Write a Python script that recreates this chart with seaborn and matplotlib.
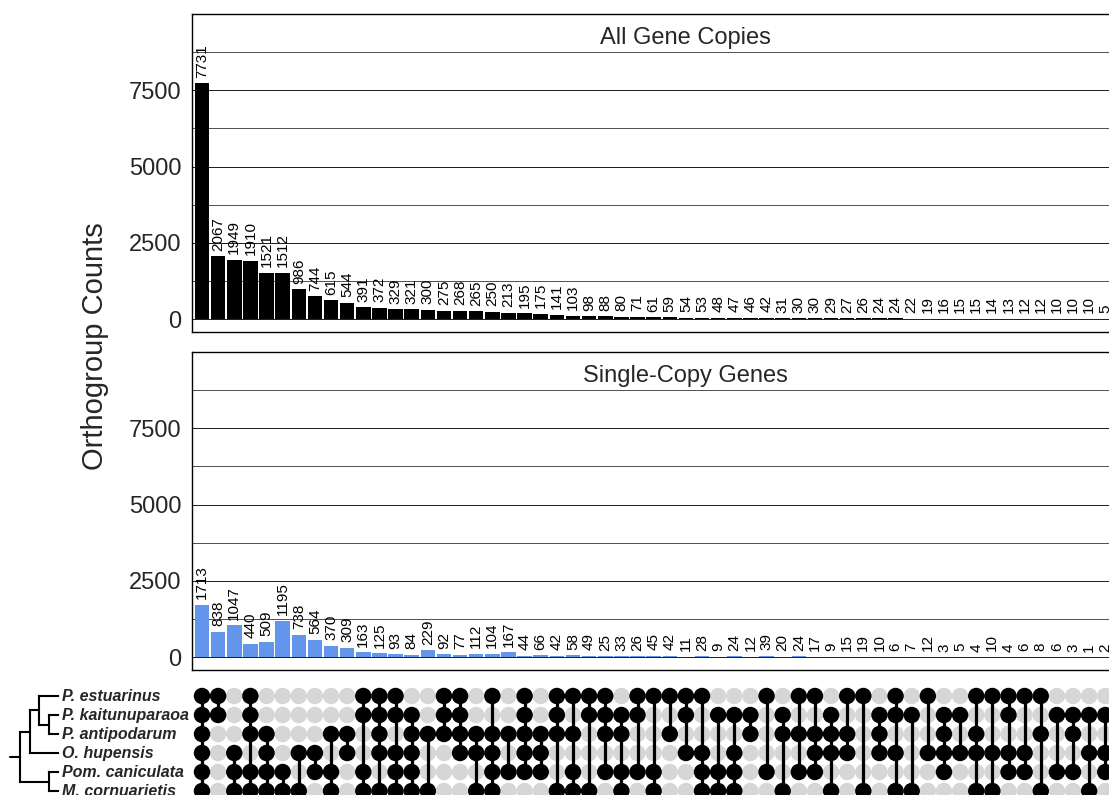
import numpy as np
import pandas as pd
import matplotlib
matplotlib.use("Agg")
import matplotlib.pyplot as plt
import matplotlib.transforms as mtrans
import seaborn as sns

# ---------------- data ----------------
species = ["P. estuarinus", "P. kaitunuparaoa", "P. antipodarum",
           "O. hupensis", "Pom. caniculata", "M. cornuarietis"]

# membership of each intersection column (rows top->bottom, 1 = present)
membership = [
    "111111", "110000", "000111", "111011", "001111", "000011", "000101", "000110",
    "001011", "001100", "110011", "111101", "110111", "011111", "001001", "111000",
    "111100", "001101", "101111", "001010", "111110", "001110", "111001", "101011",
    "110001", "111010", "011011", "110010", "100011", "101000", "110100", "100111",
    "010011", "010111", "011000", "100010", "011001", "101010", "101110", "011101",
    "101100", "100001", "011100", "110101", "010001", "100100", "011110", "010100",
    "101101", "100101", "110110", "100110", "101001", "010010", "011010", "010101",
    "010110",
]

all_copies = [7731, 2067, 1949, 1910, 1521, 1512, 986, 744, 615, 544,
              391, 372, 329, 321, 300, 275, 268, 265, 250, 213,
              195, 175, 141, 103, 98, 88, 80, 71, 61, 59,
              54, 53, 48, 47, 46, 42, 31, 30, 30, 29,
              27, 26, 24, 24, 22, 19, 16, 15, 15, 14,
              13, 12, 12, 10, 10, 10, 5]

single_copy = [1713, 838, 1047, 440, 509, 1195, 738, 564, 370, 309,
               163, 125, 93, 84, 229, 92, 77, 112, 104, 167,
               44, 66, 42, 58, 49, 25, 33, 26, 45, 42,
               11, 28, 9, 24, 12, 39, 20, 24, 17, 9,
               15, 19, 10, 6, 7, 12, 3, 5, 4, 10,
               4, 6, 8, 6, 3, 1, 2]

tree = ((("P. estuarinus", ("P. kaitunuparaoa", "P. antipodarum")), "O. hupensis"),
        ("Pom. caniculata", "M. cornuarietis"))

panel_titles = ["All Gene Copies", "Single-Copy Genes"]
bar_colors = ["black", "#6495ED"]
y_major = [0, 2500, 5000, 7500]
y_minor = [1250, 3750, 6250, 8750]

# ---------------- figure ----------------
sns.set_theme(style="white")
plt.rcParams["font.family"] = ["Liberation Sans", "DejaVu Sans"]

W, H = 1109, 795
fig = plt.figure(figsize=(W / 100, H / 100), dpi=100)


def ax_px(left, top, right, bottom):
    return fig.add_axes([left / W, 1 - bottom / H, (right - left) / W, (bottom - top) / H])


n = len(all_copies)
pitch = 16.13
x0 = 202.0
XMIN, XMAX = -0.6, 60.6
left_px = x0 + XMIN * pitch
right_px = x0 + XMAX * pitch

panels = [(14, 332), (352, 670)]
YLIM = (-420, 10000)

for (top, bottom), vals, title, col in zip(panels, [all_copies, single_copy], panel_titles, bar_colors):
    ax = ax_px(left_px, top, right_px, bottom)
    df = pd.DataFrame({"set": np.arange(n), "count": vals})
    sns.barplot(data=df, x="set", y="count", color=col, width=0.9,
                saturation=1, ax=ax, edgecolor="none")
    ax.set_xlim(XMIN, XMAX)
    ax.set_ylim(*YLIM)
    ax.set_yticks(y_major)
    ax.set_yticks(y_minor, minor=True)
    ax.set_yticklabels([str(v) for v in y_major], fontsize=17)
    ax.grid(True, which="major", axis="y", color="#1a1a1a", lw=0.7, zorder=0)
    ax.grid(True, which="minor", axis="y", color="#333333", lw=0.6, zorder=0)
    ax.set_axisbelow(True)
    ax.set_xticks(np.arange(n))
    ax.set_xticklabels([])
    ax.tick_params(axis="x", which="major", length=6, width=2, color="black", direction="out", pad=2)
    ax.tick_params(axis="y", which="major", length=4, width=1, color="black", direction="out", pad=4)
    ax.tick_params(axis="y", which="minor", length=0)
    ax.set_xlabel("")
    ax.set_ylabel("")
    for s in ax.spines.values():
        s.set_color("black")
        s.set_linewidth(1.0)
    for i, v in enumerate(vals):
        ax.annotate(str(v), (i, v), xytext=(0, 4), textcoords="offset points",
                    rotation=90, ha="center", va="bottom", fontsize=11, color="black")
    tr = mtrans.blended_transform_factory(ax.transAxes, ax.transData)
    ax.text(0.5, 9200, title, transform=tr, ha="center", va="center", fontsize=17)

fig.text(95 / W, 1 - 346 / H, "Orthogroup Counts", rotation=90, ha="center", va="center", fontsize=21)

# ---------------- matrix ----------------
row_top = 686.5
row_h = 19.0
axm = ax_px(left_px, row_top, right_px, row_top + row_h * 6)

recs = []
for i, m in enumerate(membership):
    for r, ch in enumerate(m):
        recs.append({"set": i, "row": r, "present": ch == "1"})
mdf = pd.DataFrame(recs)
sns.scatterplot(data=mdf[~mdf["present"]], x="set", y="row", color="#D6D6D6",
                s=140, edgecolor="none", ax=axm, legend=False, clip_on=False, zorder=1)
for i, m in enumerate(membership):
    rows = [r for r, ch in enumerate(m) if ch == "1"]
    if len(rows) > 1:
        axm.plot([i, i], [min(rows), max(rows)], color="black", lw=2.3, zorder=2,
                 solid_capstyle="butt", clip_on=False)
sns.scatterplot(data=mdf[mdf["present"]], x="set", y="row", color="black",
                s=140, edgecolor="none", ax=axm, legend=False, clip_on=False, zorder=3)
axm.set_xlim(XMIN, XMAX)
axm.set_ylim(5.5, -0.5)
axm.axis("off")

# ---------------- tree ----------------
axt = ax_px(0, row_top, 193, row_top + row_h * 6)
axt.set_xlim(0, 193)
axt.set_ylim(5.5, -0.5)
axt.axis("off")

leaf_x = 58.0
step = 9.5


def height(node):
    if isinstance(node, str):
        return 0
    return 1 + max(height(c) for c in node)


def draw(node):
    if isinstance(node, str):
        y = species.index(node)
        return leaf_x, y
    pts = [draw(c) for c in node]
    xn = leaf_x - step * height(node)
    ys = [p[1] for p in pts]
    axt.plot([xn, xn], [min(ys), max(ys)], color="black", lw=1.5, solid_capstyle="projecting")
    for (xc, yc) in pts:
        axt.plot([xn, xc], [yc, yc], color="black", lw=1.5, solid_capstyle="projecting")
    return xn, float(np.mean(ys))


rx, ry = draw(tree)
axt.plot([rx - 10, rx], [ry, ry], color="black", lw=1.5)
for r, sp in enumerate(species):
    axt.text(62, r, sp, ha="left", va="center", fontsize=11.5,
             fontweight="bold", fontstyle="italic")

fig.savefig("out.png", dpi=100)
